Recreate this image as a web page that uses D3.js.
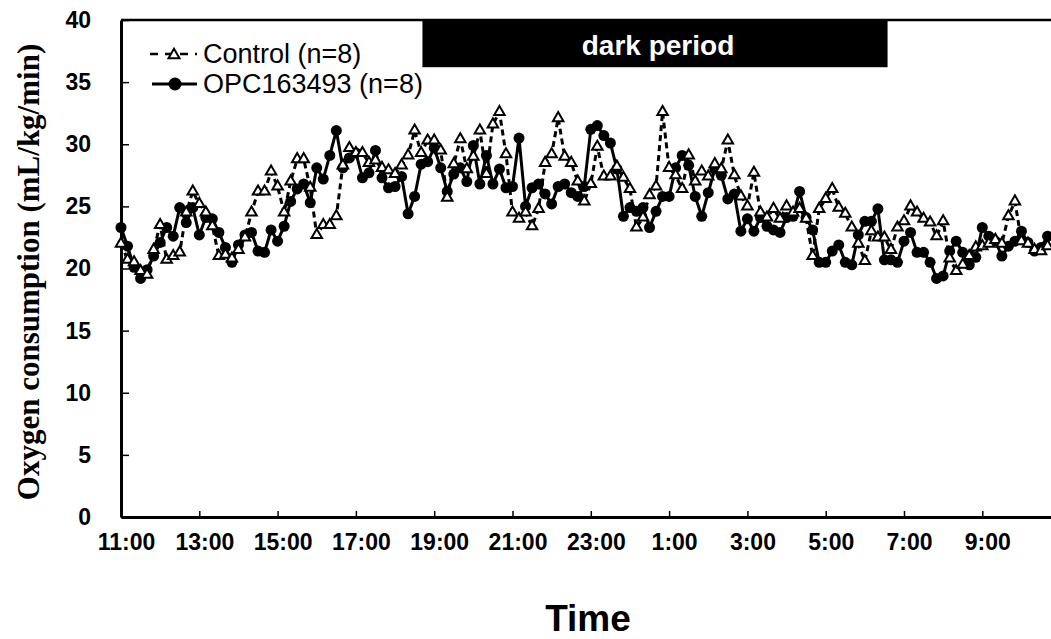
<!DOCTYPE html>
<html>
<head>
<meta charset="utf-8">
<script src="https://cdn.jsdelivr.net/npm/d3@7"></script>
<style>
  html, body { margin: 0; padding: 0; background: #fff; }
  svg { display: block; }
</style>
</head>
<body>
<script>
// Oxygen consumption, 10-minute bins starting 11:00 (hours from start = index / 6)
const controlValues = [
  22.0, 20.7, 20.5, 19.8, 19.5, 21.5, 23.5, 20.7, 21.0, 21.3,
  24.5, 26.2, 25.2, 24.5, 23.4, 21.0, 21.1, 20.8, 21.5, 22.5,
  24.5, 26.2, 26.2, 27.8, 26.6, 24.5, 27.0, 28.8, 28.8, 26.5,
  22.7, 23.5, 23.5, 24.2, 28.3, 29.7, 29.3, 29.3, 28.5, 28.7,
  28.1, 27.9, 27.6, 28.3, 29.1, 31.1, 29.3, 30.3, 30.3, 29.5,
  25.7, 28.4, 30.4, 28.0, 29.0, 31.1, 27.6, 31.6, 32.6, 29.2,
  24.5, 24.0, 24.5, 23.4, 24.8, 28.5, 29.2, 32.1, 29.0, 28.5,
  27.0, 25.4, 26.8, 29.8, 27.4, 27.4, 28.2, 27.3, 26.4, 23.3,
  24.1, 25.9, 26.6, 32.6, 28.1, 27.5, 26.4, 29.1, 27.0, 27.8,
  27.4, 28.4, 28.0, 30.3, 27.5, 25.8, 25.0, 27.7, 24.5, 24.1,
  24.8, 24.0, 25.0, 24.5, 24.8, 24.0, 21.0, 24.8, 25.6, 26.4,
  24.9, 24.4, 23.3, 22.0, 20.6, 23.0, 22.5, 22.5, 21.5, 23.3,
  23.8, 25.0, 24.5, 24.0, 23.7, 22.6, 23.8, 20.8, 19.8, 20.3,
  21.0, 21.7, 21.8, 22.0, 22.3, 22.0, 24.2, 25.4, 22.2, 22.0,
  21.5, 21.4, 21.8
];

const opcValues = [
  23.3, 21.8, 20.1, 19.2, 19.9, 21.0, 22.1, 23.3, 22.6, 24.9,
  23.7, 24.9, 22.7, 24.1, 24.0, 22.9, 21.7, 20.5, 21.9, 22.7,
  22.9, 21.4, 21.3, 23.1, 22.2, 23.4, 25.4, 26.4, 26.8, 25.3,
  28.1, 27.2, 29.1, 31.1, 28.1, 28.9, 29.3, 27.3, 27.7, 29.5,
  27.3, 26.5, 26.6, 27.4, 24.4, 25.8, 28.4, 28.6, 29.7, 28.1,
  26.2, 27.6, 28.1, 27.0, 29.9, 26.8, 29.1, 26.8, 28.0, 26.5,
  26.6, 30.5, 25.0, 26.5, 26.8, 26.0, 25.2, 26.6, 26.8, 26.1,
  25.8, 26.6, 31.2, 31.5, 30.7, 30.1, 28.0, 24.2, 24.9, 24.6,
  24.9, 23.3, 24.6, 25.8, 25.8, 28.1, 29.1, 28.3, 25.8, 24.2,
  26.1, 28.0, 27.5, 25.6, 26.0, 23.0, 24.0, 23.0, 24.1, 23.4,
  23.1, 22.9, 24.1, 24.2, 26.2, 24.1, 23.1, 20.5, 20.5, 21.4,
  21.9, 20.5, 20.3, 22.7, 23.8, 23.8, 24.8, 20.7, 20.7, 20.5,
  22.2, 22.9, 21.3, 21.3, 20.5, 19.2, 19.4, 21.4, 22.2, 21.3,
  20.3, 20.9, 23.3, 22.6, 22.2, 21.0, 21.8, 22.2, 23.0, 22.1,
  21.4, 21.7, 22.6
];

const seriesNames = ["Control (n=8)", "OPC163493 (n=8)"];

// X ticks: hours after 11:00 and their clock labels
const xTickHours = [0, 2, 4, 6, 8, 10, 12, 14, 16, 18, 20, 22];
const xTickLabels = ["11:00", "13:00", "15:00", "17:00", "19:00", "21:00",
                     "23:00", "1:00", "3:00", "5:00", "7:00", "9:00"];
const yTicks = [0, 5, 10, 15, 20, 25, 30, 35, 40];

// Dark period band (hours after 11:00)
const darkPeriod = [7.7, 19.58];
const darkLabel = "dark period";

const W = 1051, H = 639;
const svg = d3.select("body").append("svg")
  .attr("width", W).attr("height", H)
  .style("font-family", "'Liberation Sans', Arial, sans-serif");

const x = d3.scaleLinear().domain([0, 24]).range([121, 1060.6]);
const y = d3.scaleLinear().domain([0, 40]).range([517, 20]);

const hourOf = i => i / 6;

// Dark period bar at the top of the plot
const bandBottom = 36.2;
svg.append("rect")
  .attr("x", x(darkPeriod[0])).attr("y", y(40))
  .attr("width", x(darkPeriod[1]) - x(darkPeriod[0]))
  .attr("height", y(bandBottom) - y(40))
  .attr("fill", "#000");
svg.append("text")
  .attr("x", (x(darkPeriod[0]) + x(darkPeriod[1])) / 2 + 3)
  .attr("y", 55)
  .attr("text-anchor", "middle")
  .attr("fill", "#fff")
  .attr("font-weight", "bold")
  .attr("font-size", 28)
  .text(darkLabel);

// Top frame line
svg.append("line")
  .attr("x1", x(0)).attr("x2", W)
  .attr("y1", y(40)).attr("y2", y(40))
  .attr("stroke", "#000").attr("stroke-width", 2.5);

// Y axis (ticks point inward)
const yAxis = d3.axisLeft(y).tickValues(yTicks).tickSize(-8).tickPadding(30).tickSizeOuter(0);
const gy = svg.append("g").attr("transform", `translate(${x(0)},0)`).call(yAxis);
gy.select(".domain").attr("stroke-width", 3);
gy.selectAll(".tick line").attr("stroke-width", 1.5);
gy.selectAll(".tick text")
  .attr("font-size", 23).attr("font-weight", "bold")
  .attr("font-family", "'Liberation Sans', Arial, sans-serif")
  .attr("fill", "#000");

// X axis (ticks point inward)
const xAxis = d3.axisBottom(x).tickValues(xTickHours)
  .tickFormat((d, i) => xTickLabels[i]).tickSize(-6).tickPadding(17).tickSizeOuter(0);
const gx = svg.append("g").attr("transform", `translate(0,${y(0)})`).call(xAxis);
gx.select(".domain").attr("stroke-width", 3);
gx.selectAll(".tick line").attr("stroke-width", 1.5);
gx.selectAll(".tick text")
  .attr("dx", 5)
  .attr("font-size", 23).attr("font-weight", "bold")
  .attr("font-family", "'Liberation Sans', Arial, sans-serif")
  .attr("fill", "#000");

// Axis titles
svg.append("text")
  .attr("x", 588).attr("y", 631)
  .attr("text-anchor", "middle")
  .attr("font-weight", "bold").attr("font-size", 37)
  .text("Time");
svg.append("text")
  .attr("transform", "translate(39,272) rotate(-90)")
  .attr("text-anchor", "middle")
  .attr("font-family", "'Liberation Serif', 'Times New Roman', serif")
  .attr("font-weight", "bold").attr("font-size", 31)
  .text("Oxygen consumption (mL/kg/min)");

const line = d3.line().x((d, i) => x(hourOf(i))).y(d => y(d));
const triPath = s => {
  const h = s * Math.sqrt(3) / 2;
  return `M0,${-h * 2 / 3}L${s / 2},${h / 3}L${-s / 2},${h / 3}Z`;
};

const plot = svg.append("g");

// OPC163493: solid line with filled circles
plot.append("path").datum(opcValues)
  .attr("d", line).attr("fill", "none")
  .attr("stroke", "#000").attr("stroke-width", 3);
plot.selectAll("circle.opc").data(opcValues).join("circle")
  .attr("class", "opc")
  .attr("cx", (d, i) => x(hourOf(i))).attr("cy", d => y(d))
  .attr("r", 5.5).attr("fill", "#000");

// Control: dashed line with open triangles
plot.append("path").datum(controlValues)
  .attr("d", line).attr("fill", "none")
  .attr("stroke", "#000").attr("stroke-width", 3)
  .attr("stroke-dasharray", "6,4");
plot.selectAll("path.ctl").data(controlValues).join("path")
  .attr("class", "ctl")
  .attr("transform", (d, i) => `translate(${x(hourOf(i))},${y(d)})`)
  .attr("d", triPath(10.5))
  .attr("fill", "#fff").attr("stroke", "#000").attr("stroke-width", 2);

// Legend
const leg = svg.append("g");
leg.append("line").attr("x1", 150).attr("x2", 197).attr("y1", 54).attr("y2", 54)
  .attr("stroke", "#000").attr("stroke-width", 2.5).attr("stroke-dasharray", "8,7");
leg.append("path").attr("transform", "translate(174,55)").attr("d", triPath(11))
  .attr("fill", "#fff").attr("stroke", "#000").attr("stroke-width", 2);
leg.append("text").attr("x", 203).attr("y", 63).attr("font-size", 27).text(seriesNames[0]);

leg.append("line").attr("x1", 152).attr("x2", 197).attr("y1", 84).attr("y2", 84)
  .attr("stroke", "#000").attr("stroke-width", 3);
leg.append("circle").attr("cx", 175).attr("cy", 84).attr("r", 6.5).attr("fill", "#000");
leg.append("text").attr("x", 203).attr("y", 93).attr("font-size", 27).text(seriesNames[1]);
</script>
</body>
</html>
